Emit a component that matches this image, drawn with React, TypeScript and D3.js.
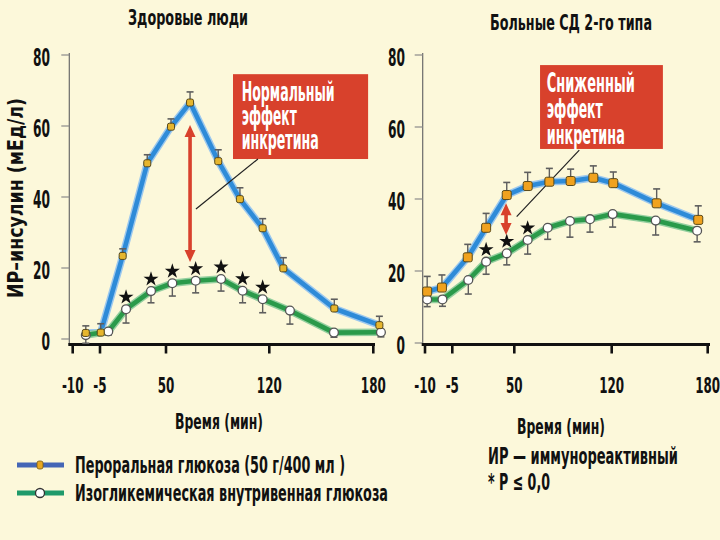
import React from 'react';
import * as d3 from 'd3';

// ---------- data ----------
const xTickValues = [-10, -5, 50, 120, 180];
const xTickLabels = ['-10', '-5', '50', '120', '180'];
const yTickValues = [0, 20, 40, 60, 80];
const yTickLabels = ['0', '20', '40', '60', '80'];

// Здоровые люди
const healthyOralTime = [-7.6, -4.4, 13.9, 34.4, 53.4, 66.3, 85.4, 100.1, 115.5, 128.1, 157.5, 183.5];
const healthyOralInsulin = [1.7, 1.8, 23.4, 49.5, 59.8, 66.6, 50.1, 39.4, 31.2, 19.9, 8.6, 3.9];
const healthyOralErr = [2.0, 2.5, 2.0, 2.4, 2.2, 3.0, 3.2, 3.2, 2.7, 3.0, 2.6, 2.5];
const healthyIvTime = [-7.6, 1.9, 16.7, 37.5, 54.3, 70.1, 87.3, 101.9, 115.5, 131.9, 157.3, 184.4];
const healthyIvInsulin = [1.1, 2.1, 8.4, 13.5, 15.7, 16.4, 16.9, 13.6, 11.2, 8.0, 1.8, 1.9];
const healthyIvErr = [2.3, 1.0, 3.9, 3.3, 3.6, 3.4, 3.4, 3.4, 3.8, 3.8, 1.3, 1.3];
const healthyStarIdx = [2, 3, 4, 5, 6, 7, 8];

// Больные СД 2-го типа
const t2dOralTime = [-9.6, -6.9, 8.7, 25.0, 43.3, 59.6, 75.2, 90.5, 106.8, 121.0, 148.1, 174.1];
const t2dOralInsulin = [14.3, 15.4, 23.8, 32.0, 41.1, 43.6, 44.8, 45.0, 45.9, 44.4, 38.8, 34.2];
const t2dOralErr = [4.2, 3.5, 3.6, 4.0, 3.5, 3.8, 3.7, 3.3, 3.3, 3.1, 4.0, 3.9];
const t2dIvTime = [-9.6, -6.8, 9.2, 25.0, 43.3, 59.6, 74.0, 90.0, 104.4, 120.6, 147.5, 173.4];
const t2dIvInsulin = [12.1, 12.1, 17.5, 22.6, 24.9, 28.6, 32.0, 33.9, 34.4, 35.8, 34.0, 31.2];
const t2dIvErr = [2.0, 1.9, 3.9, 3.5, 3.2, 3.9, 3.2, 4.5, 3.6, 3.6, 4.0, 3.1];
const t2dStarIdx = [3, 4, 5];

const healthyNote = ['Нормальный', 'эффект', 'инкретина'];
const t2dNote = ['Сниженный', 'эффект', 'инкретина'];
const legendLabels = ['Пероральная глюкоза (50 г/400 мл )', 'Изогликемическая внутривенная глюкоза'];
const footnotes = ['ИР — иммунореактивный', '* P ≤ 0,0'];

// ---------- style ----------
const FONT = "'Liberation Sans Narrow','DejaVu Sans Condensed','Arial Narrow',sans-serif";
const BG = '#fcf8da';
const BLUE = '#2e8bd8';
const BLUE_HALO = '#9cc8ee';
const GREEN = '#2a9a4a';
const GREEN_HALO = '#94cf9f';
const RED = '#d8412c';
const ERR = '#5e5e5e';

type PanelCfg = {
  title: string; titleX: number; titleY: number; titleLen: number;
  xStops: number[]; yRange: [number, number]; axisX: number; axisY: number; axisEnd: number;
  tickLabelX: number;
  oral: { t: number[]; v: number[]; e: number[] };
  iv: { t: number[]; v: number[]; e: number[] };
  stars: number[];
  arrow: { t: number; from: number; to: number };
  box: { t0: number; t1: number; v0: number; v1: number };
  pointer: { t0: number; v0: number; t1: number; v1: number };
  note: string[]; noteLens: number[]; noteDx: number; noteBaseDy: number[];
  markerSize: number; markerFill: string;
  timeTitleX: number; timeTitleY: number;
};

function Txt(p: { x: number; y: number; len?: number; size: number; anchor?: string; fill?: string; children: any; transform?: string }) {
  return (
    <text x={p.x} y={p.y} fontFamily={FONT} fontWeight="bold" fontSize={p.size}
      textAnchor={p.anchor || 'start'} fill={p.fill || '#111'}
      textLength={p.len} lengthAdjust={p.len ? 'spacingAndGlyphs' : undefined}
      transform={p.transform}>{p.children}</text>
  );
}

const labelLen = (s: string) => s.split('').reduce((a, c) => a + (c === '-' ? 5 : 8.3), 0);

function Panel({ cfg }: { cfg: PanelCfg }) {
  const x = d3.scaleLinear().domain(xTickValues).range(cfg.xStops);
  const y = d3.scaleLinear().domain([0, 80]).range(cfg.yRange);
  const path = (t: number[], v: number[]) =>
    d3.line<number>().x((_, i) => x(t[i])).y(d => y(d))(v) || '';
  const star = d3.symbol(d3.symbolStar, 70)() || '';
  const ms = cfg.markerSize;
  const a = cfg.arrow;
  const ax = x(a.t), ay0 = y(a.from), ay1 = y(a.to);
  const hw = 5.5, hl = 12;
  return (
    <g>
      <Txt x={cfg.titleX} y={cfg.titleY} size={21} anchor="middle" len={cfg.titleLen}>{cfg.title}</Txt>
      {/* y axis */}
      <line x1={cfg.axisX} x2={cfg.axisX} y1={y(80) - 2} y2={cfg.axisY} stroke="#6a6a6a" strokeWidth={1.2} />
      {yTickValues.map((v, i) => (
        <g key={'yt' + i}>
          <line x1={cfg.axisX - 8} x2={cfg.axisX} y1={y(v)} y2={y(v)} stroke="#8a8a8a" strokeWidth={1.2} />
          <Txt x={cfg.tickLabelX} y={y(v) + 10.5} size={24} anchor="end" len={yTickLabels[i].length * 8.5}>{yTickLabels[i]}</Txt>
        </g>
      ))}
      {/* x axis */}
      <line x1={cfg.axisX - 1} x2={cfg.axisEnd} y1={cfg.axisY} y2={cfg.axisY} stroke="#111" strokeWidth={3} />
      {xTickValues.map((v, i) => (
        <g key={'xt' + i}>
          <line x1={x(v)} x2={x(v)} y1={cfg.axisY} y2={cfg.axisY + 9} stroke="#111" strokeWidth={2.6} />
          <Txt x={x(v)} y={393} size={22} anchor="middle" len={labelLen(xTickLabels[i])}>{xTickLabels[i]}</Txt>
        </g>
      ))}
      <Txt x={cfg.timeTitleX} y={cfg.timeTitleY} size={22} anchor="middle" len={88}>Время (мин)</Txt>

      {/* annotation box */}
      <rect x={x(cfg.box.t0)} y={y(cfg.box.v0)} width={x(cfg.box.t1) - x(cfg.box.t0)} height={y(cfg.box.v1) - y(cfg.box.v0)} fill={RED} />
      {cfg.note.map((s, i) => (
        <Txt key={'n' + i} x={x(cfg.box.t0) + cfg.noteDx} y={y(cfg.box.v0) + cfg.noteBaseDy[i]} size={26} fill="#fff" len={cfg.noteLens[i]}>{s}</Txt>
      ))}

      {/* lines */}
      <path d={path(cfg.oral.t, cfg.oral.v)} fill="none" stroke={BLUE_HALO} strokeWidth={7.5} strokeLinejoin="round" />
      <path d={path(cfg.oral.t, cfg.oral.v)} fill="none" stroke={BLUE} strokeWidth={4.6} strokeLinejoin="round" />
      <path d={path(cfg.iv.t, cfg.iv.v)} fill="none" stroke={GREEN_HALO} strokeWidth={7.5} strokeLinejoin="round" />
      <path d={path(cfg.iv.t, cfg.iv.v)} fill="none" stroke={GREEN} strokeWidth={4.6} strokeLinejoin="round" />

      {/* pointer line */}
      <line x1={x(cfg.pointer.t0)} y1={y(cfg.pointer.v0)} x2={x(cfg.pointer.t1)} y2={y(cfg.pointer.v1)} stroke="#222" strokeWidth={1.2} />

      {/* error bars */}
      {cfg.oral.v.map((v, i) => {
        const cx = x(cfg.oral.t[i]);
        return (
          <g key={'eo' + i}>
            <line x1={cx} x2={cx} y1={y(v)} y2={y(v + cfg.oral.e[i])} stroke={ERR} strokeWidth={1.4} />
            <line x1={cx - 3.5} x2={cx + 3.5} y1={y(v + cfg.oral.e[i])} y2={y(v + cfg.oral.e[i])} stroke={ERR} strokeWidth={1.6} />
          </g>
        );
      })}
      {cfg.iv.v.map((v, i) => {
        const cx = x(cfg.iv.t[i]);
        return (
          <g key={'ei' + i}>
            <line x1={cx} x2={cx} y1={y(v)} y2={y(v - cfg.iv.e[i])} stroke={ERR} strokeWidth={1.4} />
            <line x1={cx - 3.5} x2={cx + 3.5} y1={y(v - cfg.iv.e[i])} y2={y(v - cfg.iv.e[i])} stroke={ERR} strokeWidth={1.6} />
          </g>
        );
      })}

      {/* markers */}
      {cfg.iv.v.map((v, i) => (
        <circle key={'mi' + i} cx={x(cfg.iv.t[i])} cy={y(v)} r={4.4} fill="#fff" stroke="#555" strokeWidth={1.3} />
      ))}
      {cfg.oral.v.map((v, i) => (
        <rect key={'mo' + i} x={x(cfg.oral.t[i]) - ms / 2} y={y(v) - ms / 2} width={ms} height={ms} rx={1.8}
          fill={cfg.markerFill} stroke="#5a4a1a" strokeWidth={1} />
      ))}

      {/* stars */}
      {cfg.stars.map(i => (
        <path key={'s' + i} d={star} fill="#111" transform={`translate(${x(cfg.iv.t[i])},${y(cfg.iv.v[i]) - 12})`} />
      ))}

      {/* red arrow */}
      <line x1={ax} x2={ax} y1={ay0 + hl - 1} y2={ay1 - hl + 1} stroke={RED} strokeWidth={3.6} />
      <path d={`M${ax},${ay0} L${ax - hw},${ay0 + hl} L${ax + hw},${ay0 + hl} Z`} fill={RED} />
      <path d={`M${ax},${ay1} L${ax - hw},${ay1 - hl} L${ax + hw},${ay1 - hl} Z`} fill={RED} />
    </g>
  );
}

const leftCfg: PanelCfg = {
  title: 'Здоровые люди', titleX: 188, titleY: 25, titleLen: 120,
  xStops: [72.7, 100, 166, 269.3, 373.3], yRange: [339, 55], axisX: 69.3, axisY: 344.5, axisEnd: 375,
  tickLabelX: 50,
  oral: { t: healthyOralTime, v: healthyOralInsulin, e: healthyOralErr },
  iv: { t: healthyIvTime, v: healthyIvInsulin, e: healthyIvErr },
  stars: healthyStarIdx,
  arrow: { t: 66.3, from: 60.3, to: 21.7 },
  box: { t0: 95.4, t1: 177, v0: 74.6, v1: 50.7 },
  pointer: { t0: 70.3, v0: 36.6, t1: 112.3, v1: 50.7 },
  note: healthyNote, noteLens: [93, 55, 77], noteDx: 8.7, noteBaseDy: [27, 51, 75],
  markerSize: 7, markerFill: '#e6b62e',
  timeTitleX: 219, timeTitleY: 429,
};

const rightCfg: PanelCfg = {
  title: 'Больные СД 2-го типа', titleX: 571, titleY: 30, titleLen: 162,
  xStops: [425, 452.3, 514.3, 611.7, 707.7], yRange: [343, 55], axisX: 422.7, axisY: 344.5, axisEnd: 710,
  tickLabelX: 405,
  oral: { t: t2dOralTime, v: t2dOralInsulin, e: t2dOralErr },
  iv: { t: t2dIvTime, v: t2dIvInsulin, e: t2dIvErr },
  stars: t2dStarIdx,
  arrow: { t: 42.7, from: 38.8, to: 30.0 },
  box: { t0: 68.5, t1: 152, v0: 77.2, v1: 53.9 },
  pointer: { t0: 51.7, v0: 35.1, t1: 96.7, v1: 53.6 },
  note: t2dNote, noteLens: [88, 56, 78], noteDx: 6.7, noteBaseDy: [27, 53, 79],
  markerSize: 9, markerFill: '#f0a21e',
  timeTitleX: 561, timeTitleY: 434,
};

export default function App() {
  return (
    <svg width={720} height={540} style={{ position: 'absolute', left: 0, top: 0, display: 'block' }}>
      <rect x={0} y={0} width={720} height={540} fill={BG} />
      <Txt x={0} y={0} size={21} anchor="middle" len={200} transform="translate(23,198) rotate(-90)">ИР–инсулин (мЕд/л)</Txt>
      <Panel cfg={leftCfg} />
      <Panel cfg={rightCfg} />

      {/* legend */}
      <rect x={17} y={462.5} width={47} height={5} fill="#4466b6" />
      <rect x={37} y={461} width={6} height={8} rx={2} fill="#e8a820" stroke="#7a5a10" strokeWidth={0.8} />
      <Txt x={75} y={473} size={23} len={270}>{legendLabels[0]}</Txt>
      <rect x={17} y={490.5} width={47} height={5} fill="#1f9a6a" />
      <circle cx={40} cy={493} r={4.5} fill="#fff" stroke="#333" strokeWidth={1.3} />
      <Txt x={75} y={501} size={23} len={313}>{legendLabels[1]}</Txt>

      <Txt x={488} y={464} size={23} len={190}>{footnotes[0]}</Txt>
      <Txt x={488} y={490} size={23} len={62}>{footnotes[1]}</Txt>
    </svg>
  );
}
